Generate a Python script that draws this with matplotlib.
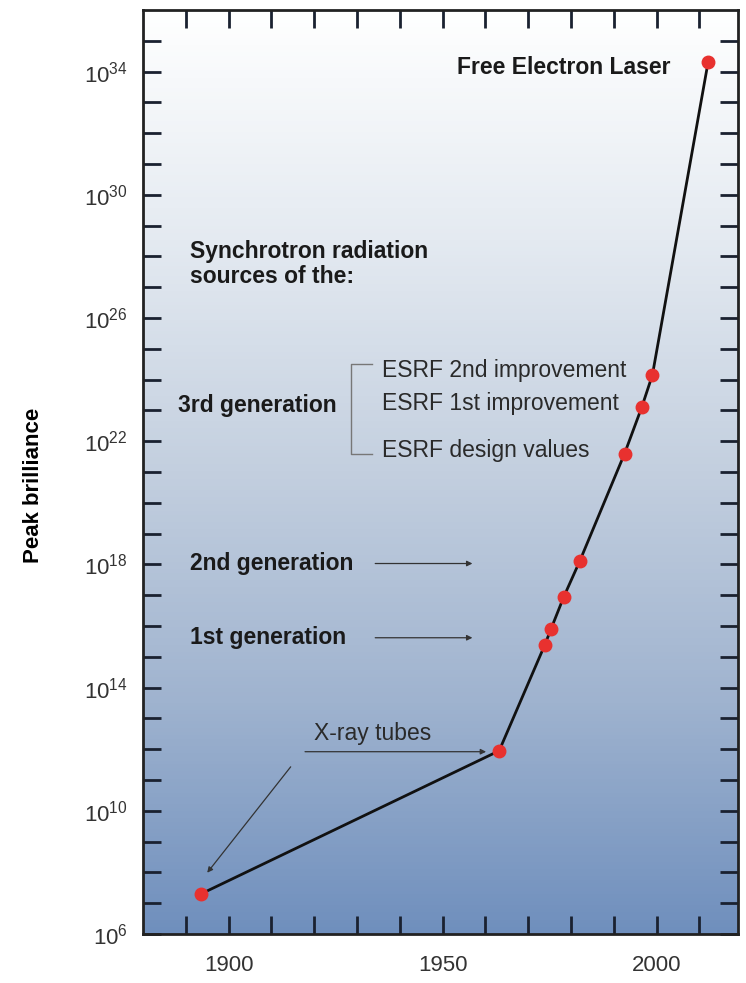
import numpy as np
import matplotlib as mpl
import matplotlib.pyplot as plt
from matplotlib.colors import LinearSegmentedColormap

mpl.rcParams['font.family'] = ['Liberation Sans', 'DejaVu Sans']
mpl.rcParams['mathtext.fontset'] = 'custom'
mpl.rcParams['mathtext.rm'] = 'Liberation Sans'
mpl.rcParams['mathtext.default'] = 'regular'

# data
years = [1893.5, 1963.2, 1973.9, 1975.3, 1978.3, 1982.0, 1992.5, 1996.5, 1999.0, 2012.0]
log_brilliance = [7.3, 11.95, 15.4, 15.9, 16.95, 18.1, 21.6, 23.1, 24.15, 34.3]
brilliance = [10 ** v for v in log_brilliance]

ytick_exp = [6, 10, 14, 18, 22, 26, 30, 34]
xtick_years = [1900, 1950, 2000]

fig = plt.figure(figsize=(7.46, 9.83), dpi=100)
ax = fig.add_axes([0.1917, 0.0498, 0.7976, 0.94])

# background gradient
bg = LinearSegmentedColormap.from_list(
    'bg', [(0.0, '#ffffff'), (0.25, '#e4eaf1'), (0.5, '#c3cfdf'), (0.75, '#9fb3cf'), (1.0, '#6f8fbd')])
grad = np.linspace(0, 1, 256).reshape(-1, 1)
ax.imshow(grad, cmap=bg, aspect='auto', extent=[0, 1, 0, 1], transform=ax.transAxes, zorder=0)

ax.set_yscale('log')
ax.set_xlim(1880, 2019)
ax.set_ylim(1e6, 1e36)

ax.plot(years, brilliance, color='#111111', lw=2, zorder=3)
ax.plot(years, brilliance, 'o', color='#e8312f', ms=9, zorder=4)

# ticks
ax.set_yticks([10.0 ** e for e in ytick_exp])
ax.set_yticklabels([r'$10^{%d}$' % e for e in ytick_exp])
ax.set_yticks([10.0 ** e for e in range(7, 36)], minor=True)
ax.set_xticks(xtick_years)
ax.set_xticks(range(1890, 2020, 10), minor=True)
ax.tick_params(which='both', direction='in', top=True, right=True, color='#1a2130',
               width=2, length=13, labelsize=16, labelcolor='#333333')
ax.tick_params(axis='y', which='both', pad=11)
ax.tick_params(axis='x', which='both', pad=15)
ax.yaxis.set_minor_formatter(mpl.ticker.NullFormatter())
for s in ax.spines.values():
    s.set_linewidth(2)
    s.set_color('#222222')

ax.set_ylabel('Peak brilliance', fontsize=16, fontweight='bold')
ax.yaxis.set_label_coords(-0.166, 0.486)

bold = dict(fontsize=16.5, fontweight='bold', ha='left', va='center', color='#1a1a1a')
plain = dict(fontsize=16.5, ha='left', va='center', color='#2a2a2a')

# annotations
ax.text(1953.4, 10 ** 34.15, 'Free Electron Laser', **bold)
ax.text(1890.9, 10 ** 27.75, 'Synchrotron radiation\nsources of the:', linespacing=1.1, **bold)
ax.text(1888.1, 10 ** 23.15, '3rd generation', **bold)
ax.plot([1933.6, 1928.7, 1928.7, 1933.6], [10 ** 24.5, 10 ** 24.5, 10 ** 21.58, 10 ** 21.58],
        color='#777777', lw=1)
ax.text(1935.9, 10 ** 24.3, 'ESRF 2nd improvement', **plain)
ax.text(1935.9, 10 ** 23.23, 'ESRF 1st improvement', **plain)
ax.text(1935.9, 10 ** 21.7, 'ESRF design values', **plain)

arrow = dict(arrowstyle='-|>', color='#333333', lw=0.9, mutation_scale=8)
ax.text(1890.9, 10 ** 18.03, '2nd generation', **bold)
ax.annotate('', xy=(1957.6, 10 ** 18.03), xytext=(1933.6, 10 ** 18.03), arrowprops=arrow)
ax.text(1890.9, 10 ** 15.62, '1st generation', **bold)
ax.annotate('', xy=(1957.6, 10 ** 15.62), xytext=(1933.6, 10 ** 15.62), arrowprops=arrow)

ax.text(1920, 10 ** 12.5, 'X-ray tubes', **plain)
ax.annotate('', xy=(1960.8, 10 ** 11.92), xytext=(1917.2, 10 ** 11.92), arrowprops=arrow)
ax.annotate('', xy=(1894.6, 10 ** 7.92), xytext=(1914.9, 10 ** 11.5), arrowprops=arrow)

plt.savefig('out.png', dpi=100)
